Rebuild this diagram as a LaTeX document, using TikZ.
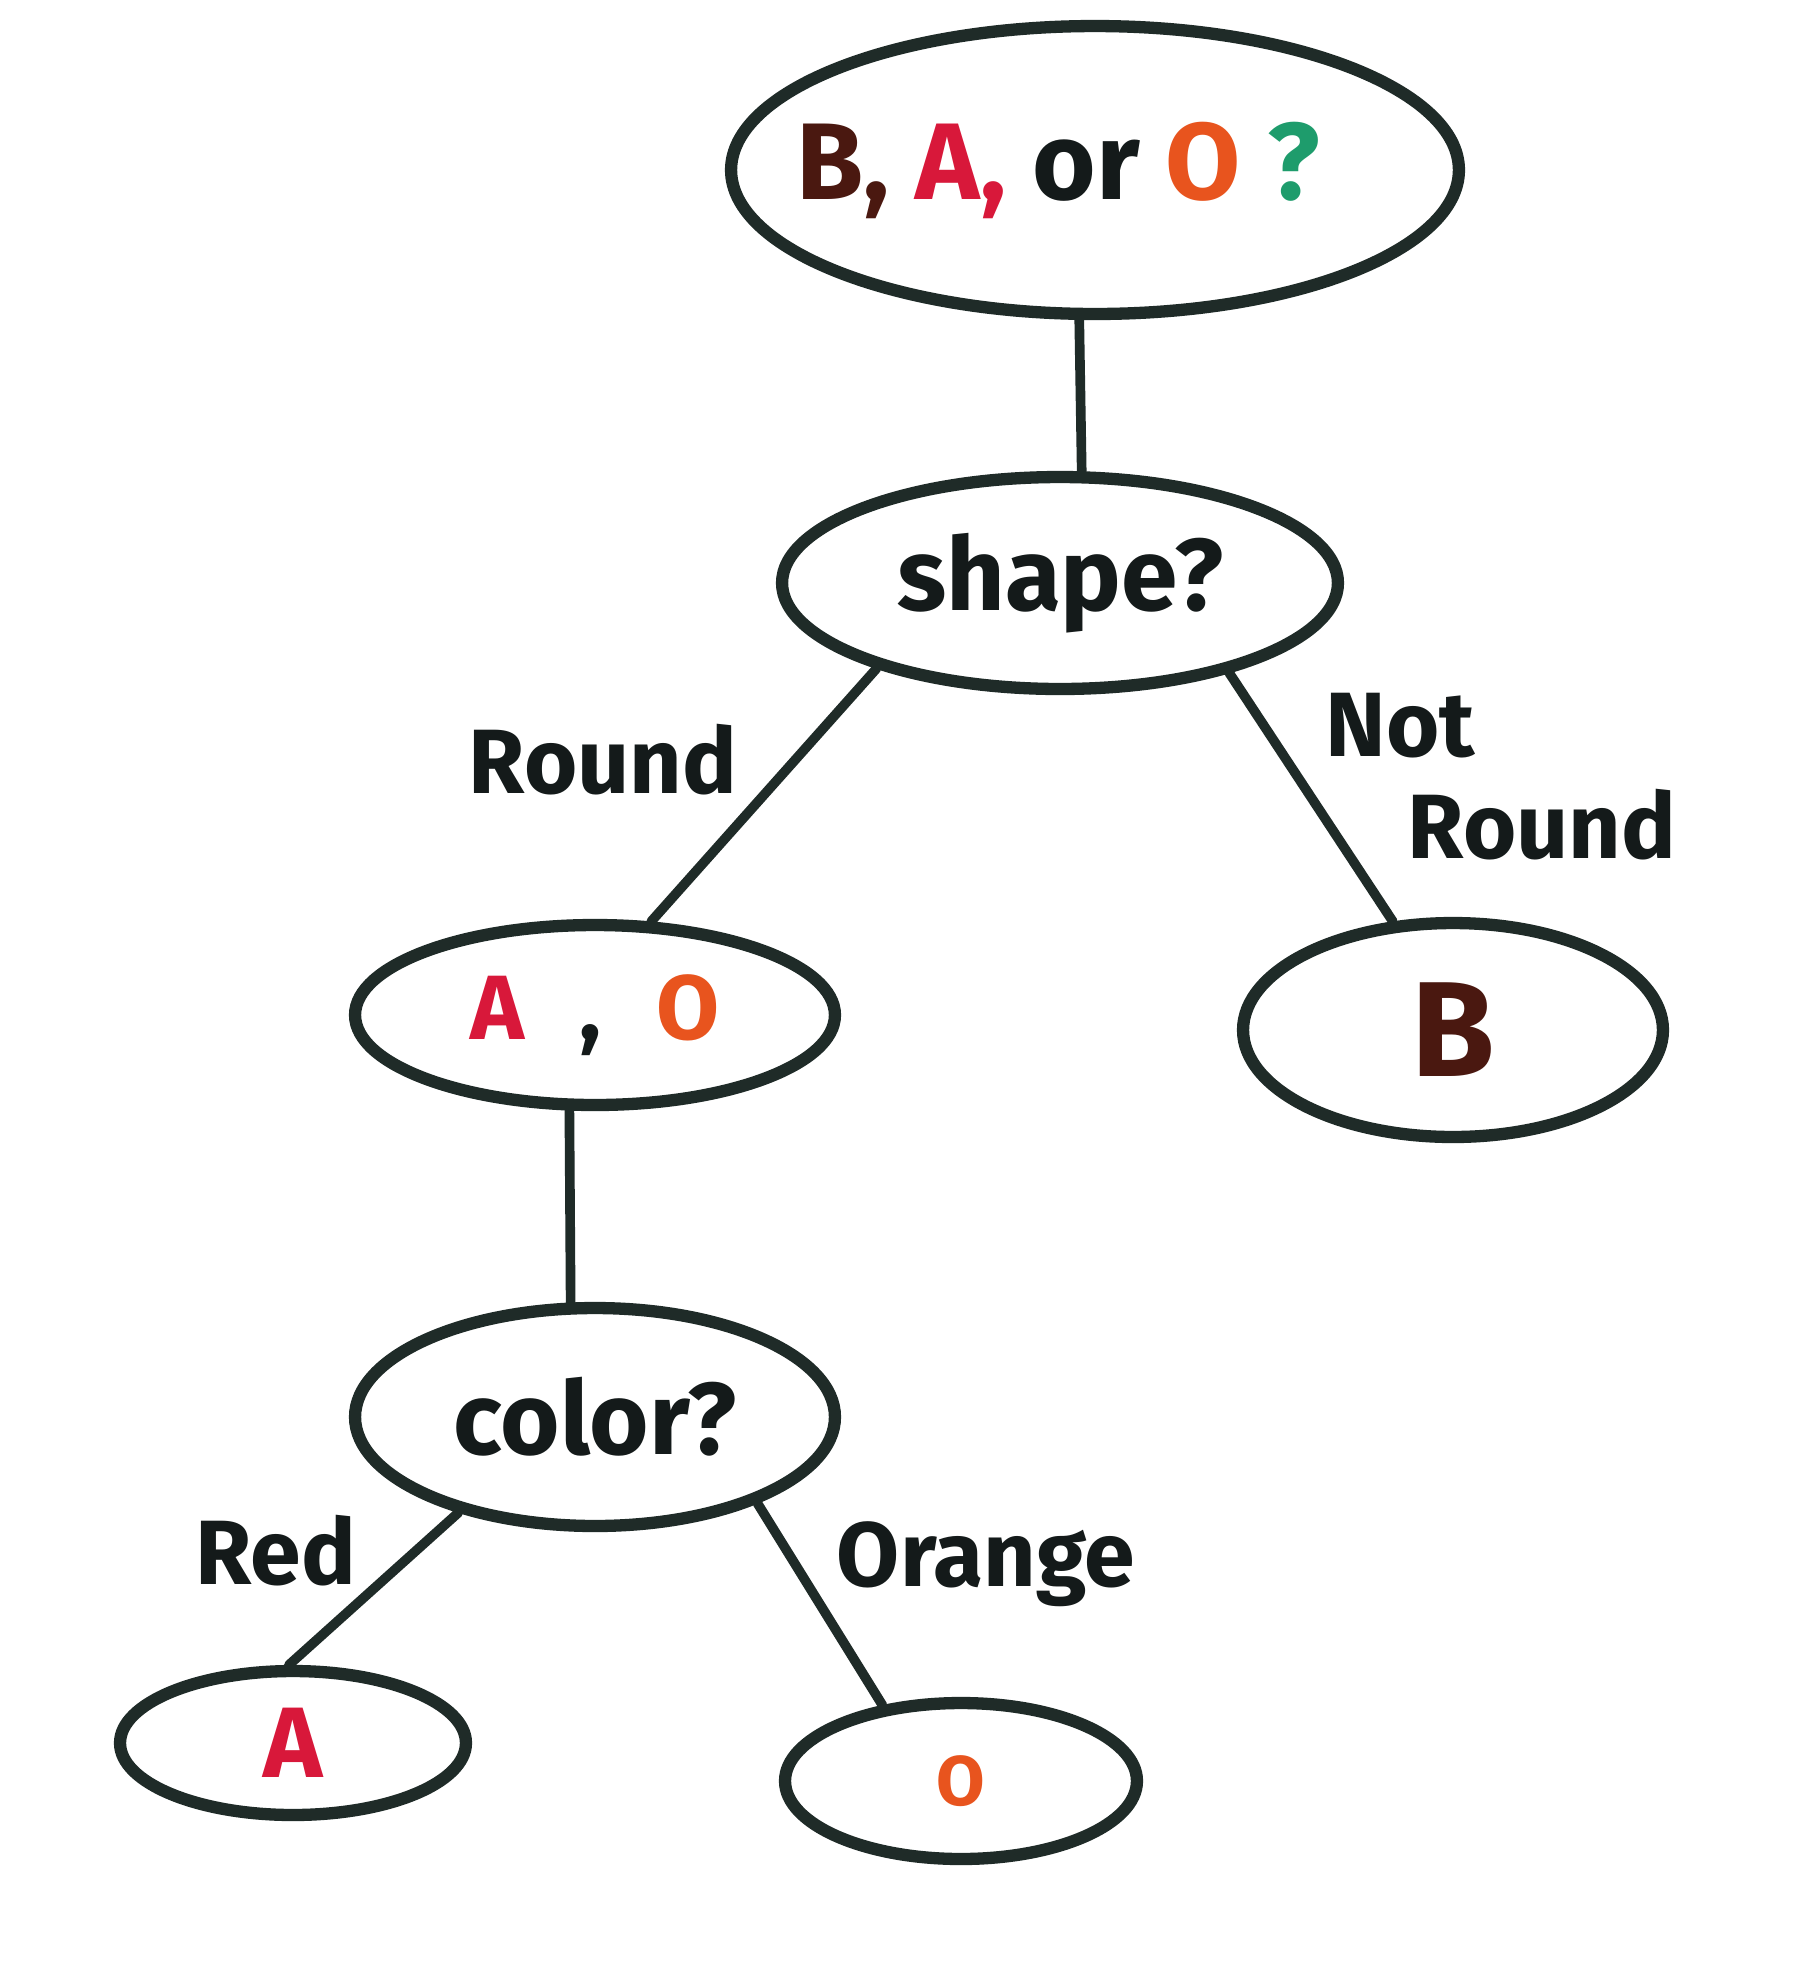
\documentclass[tikz,border=0pt]{standalone}
\usepackage{fontspec}
\setmainfont{Fira Sans}
\usetikzlibrary{shapes.geometric}
\definecolor{ink}{HTML}{1F2B28}
\definecolor{inktext}{HTML}{141A1A}
\definecolor{brownb}{HTML}{4A1810}
\definecolor{reda}{HTML}{D8183A}
\definecolor{orangeo}{HTML}{E8541E}
\definecolor{greenq}{HTML}{1E9C6C}
\tikzset{
  tnode/.style={ellipse,draw=ink,line width=7pt,inner sep=0pt,align=center,text=inktext},
  conn/.style={draw=ink,line width=5.5pt,line cap=round},
  lbl/.style={font=\bfseries\fontsize{52}{58}\selectfont,text=inktext,align=left},
}
\begin{document}
\begin{tikzpicture}[x=0.02cm,y=-0.02cm]
\useasboundingbox[fill=white] (0,0) rectangle (1795,1969);
% question nodes
\node[tnode,minimum width=14.56cm,minimum height=5.76cm,
  label={[font=\bfseries\fontsize{62}{70}\selectfont,text=inktext,xshift=-0.74cm]center:\textcolor{brownb}{B,} \textcolor{reda}{A,} or \textcolor{orangeo}{O} \textcolor{greenq}{?}}] (root) at (1095,170) {};
\node[tnode,minimum width=11.12cm,minimum height=4.24cm,font=\bfseries\fontsize{58}{64}\selectfont] (shape) at (1060,583) {shape?};
\node[tnode,minimum width=9.6cm,minimum height=3.6cm,font=\bfseries\fontsize{52}{60}\selectfont] (ao) at (595,1015)
  {\textcolor{reda}{A}\hspace{0.6em},\hspace{0.6em}\textcolor{orangeo}{O}};
\node[tnode,minimum width=8.4cm,minimum height=4.28cm,font=\bfseries\fontsize{77}{84}\selectfont] (b) at (1453,1030) {\textcolor{brownb}{B}};
\node[tnode,minimum width=9.6cm,minimum height=4.36cm,font=\bfseries\fontsize{58}{64}\selectfont] (color) at (595,1417) {color?};
% leaves
\node[tnode,minimum width=6.92cm,minimum height=2.88cm,font=\bfseries\fontsize{57}{64}\selectfont] (a) at (293,1743) {\textcolor{reda}{A}};
\node[tnode,minimum width=7.04cm,minimum height=3.12cm,font=\bfseries\fontsize{40}{46}\selectfont] (o) at (961,1781) {\textcolor{orangeo}{O}};
% connectors
\draw[conn] (root.264) -- (shape.79);
\draw[conn] (shape.205) -- (ao.59);
\draw[conn] (shape.332) -- (b.119);
\draw[conn] (ao.255) -- (color.102);
\draw[conn] (color.215) -- (a.93);
\draw[conn] (color.332) -- (o.136);
% branch labels
\node[lbl] (lround) at (603,760) {Round};
\node[lbl] (lnot) at (1501,777) {Not\\\hspace*{1.64cm}Round};
\node[lbl] (lred) at (276,1551) {Red};
\node[lbl] (lorange) at (986,1564) {Orange};
\end{tikzpicture}
\end{document}
